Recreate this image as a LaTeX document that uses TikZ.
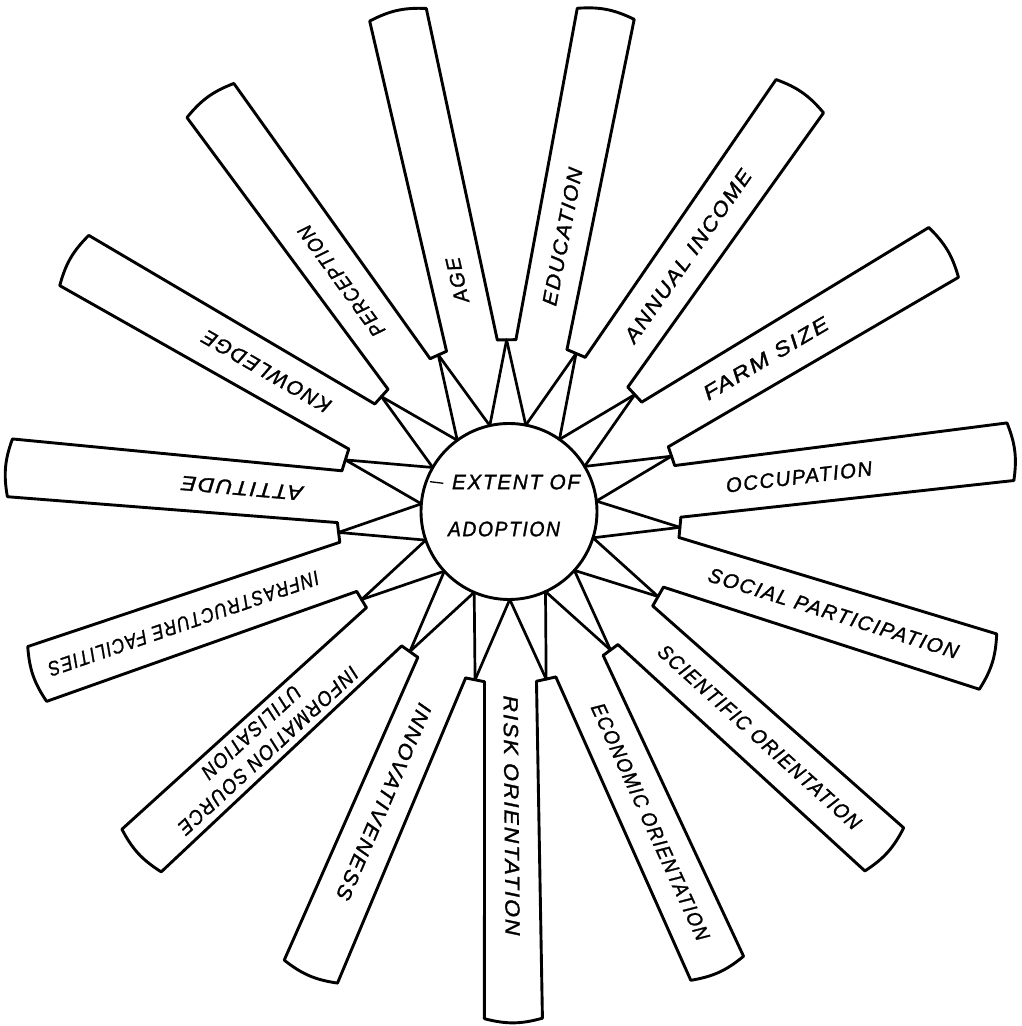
\documentclass[tikz,border=0pt]{standalone}
\usepackage{fontspec}
\usepackage{graphicx}
\setmainfont{Liberation Sans}
\usetikzlibrary{calc}
\newcommand\fw[2]{\resizebox{#1pt}{\height}{#2}}
\begin{document}
\begin{tikzpicture}[x=1pt,y=1pt,
  outline/.style={line width=2.9pt, line join=round, line cap=round},
  spoke/.style={line width=2.7pt, line cap=round},
  lbl/.style={font={\itshape\fontsize{20.5}{25}\selectfont\addfontfeature{LetterSpace=8,FakeBold=1.3}}, inner sep=0pt, align=center},
  ctext/.style={font={\itshape\fontsize{21}{24}\selectfont\addfontfeature{LetterSpace=8,FakeBold=1.3}}, inner sep=0pt}]
\useasboundingbox (0,0) rectangle (1022,1026);
\fill[white] (0,0) rectangle (1022,1026);
\coordinate (C) at (509,514.5);
\foreach \idx/\ang/\rad/\dist/\lab in {
  1/175/501/268/{\fw{122}{ATTITUDE}},
  2/150/502/280/{\fw{145}{KNOWLEDGE}},
  3/126/508/285/{\fw{132}{PERCEPTION}},
  4/102.6/509/237/{\fw{46}{AGE}},
  5/79/507/280/{\fw{140}{EDUCATION}},
  6/55/507/312/{\fw{206}{ANNUAL INCOME}},
  7/30.8/506/299/{\fw{142}{FARM SIZE}},
  8/6.8/505/292/{\fw{147}{OCCUPATION}},
  9/-17.4/502/340/{\fw{261}{SOCIAL PARTICIPATION}},
  10/-42/505/337/{\fw{265}{SCIENTIFIC ORIENTATION}},
  11/-65.5/502/341/{\fw{258}{ECONOMIC ORIENTATION}},
  12/-89.5/507/304/{\fw{240}{RISK ORIENTATION}},
  13/-113.3/501/316/{\fw{212}{INNOVATIVENESS}},
  14/-137.3/500/339/{\fw{237}{INFORMATION SOURCE}\\\fw{127}{UTILISATION}},
  15/-161/499/344/{\fw{285}{INFRASTRUCTURE FACILITIES}}}{
  \coordinate (iL\idx) at ($(C)+(\ang:170)+({\ang+90}:26)$);
  \coordinate (iR\idx) at ($(C)+(\ang:170)+({\ang-90}:26)$);
  \coordinate (oL\idx) at ($(C)+(\ang:\rad)+({\ang+90}:29)$);
  \coordinate (oR\idx) at ($(C)+(\ang:\rad)+({\ang-90}:29)$);
  \coordinate (P\idx) at ($(C)+(\ang:88)$);
  \node[lbl, rotate=\ang] (lab\idx) at ($(C)+(\ang:\dist)$) {\lab};
}
\node[circle, draw, line width=2.9pt, minimum size=176pt, inner sep=0pt] (hub) at (C) {};
\foreach \idx in {1,...,15}{
  \pgfmathtruncatemacro\nx{mod(\idx,15)+1}
  \coordinate (N\idx) at ($(iR\idx)!0.5!(iL\nx)$);
  \draw[spoke] (N\idx) -- (P\idx);
  \draw[spoke] (N\idx) -- (P\nx);
  \draw[outline] (iR\idx) -- (iL\nx);
  \draw[outline] (iL\idx) -- (oL\idx) to[bend left=15] (oR\idx) -- (iR\idx);
}
\node[ctext] (ext) at (516,544) {\fw{128}{EXTENT OF}};
\node[ctext] (adp) at (504,497) {\fw{112}{ADOPTION}};
\coordinate (dashA) at (430,544.3);
\coordinate (dashB) at (443.3,542.7);
\draw[line width=1.3pt] (dashA) -- (dashB);
\end{tikzpicture}
\end{document}
